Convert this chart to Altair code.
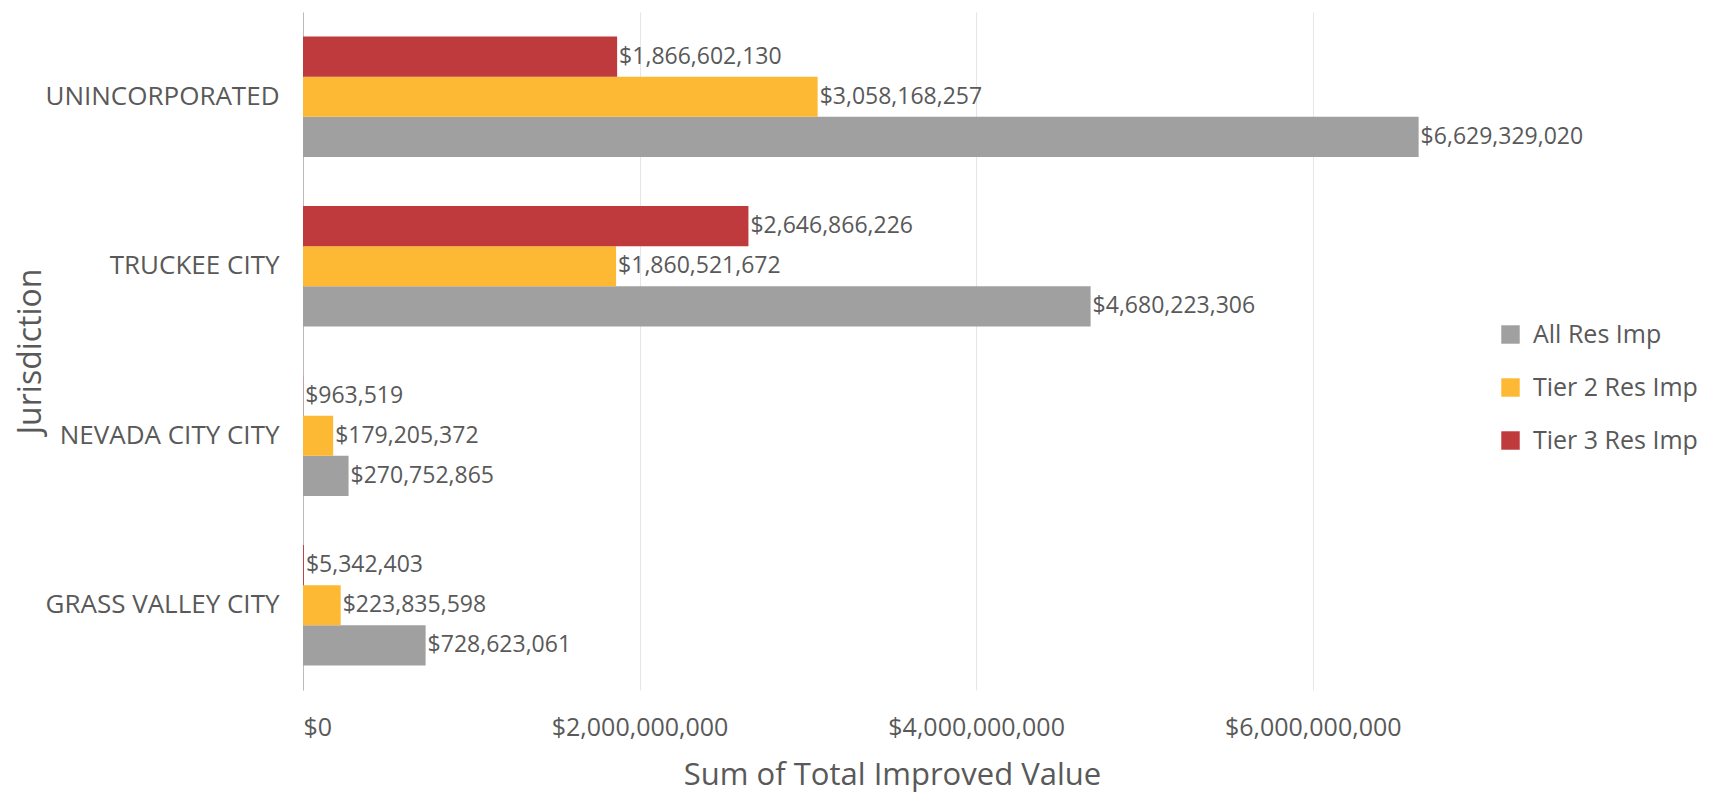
import altair as alt
import pandas as pd

categories = ["UNINCORPORATED", "TRUCKEE CITY", "NEVADA CITY CITY", "GRASS VALLEY CITY"]
series_names = ["All Res Imp", "Tier 2 Res Imp", "Tier 3 Res Imp"]
all_res = [6629329020, 4680223306, 270752865, 728623061]
tier2 = [3058168257, 1860521672, 179205372, 223835598]
tier3 = [1866602130, 2646866226, 963519, 5342403]
colors = ["#A0A0A0", "#FDB933", "#BE3A3C"]
tick_values = [0, 2000000000, 4000000000, 6000000000]

rows = []
for i, c in enumerate(categories):
    for s, vals in zip(series_names, [all_res, tier2, tier3]):
        rows.append({"Jurisdiction": c, "Series": s, "Value": vals[i]})
df = pd.DataFrame(rows)

FONT = "Open Sans"
TXT = "#595959"

base = alt.Chart(df).encode(
    y=alt.Y("Jurisdiction:N", sort=categories,
            scale=alt.Scale(paddingInner=0.29, paddingOuter=0.145),
            axis=alt.Axis(title="Jurisdiction", labelFontSize=26, titleFontSize=32,
                          labelFont=FONT, titleFont=FONT, labelColor=TXT, titleColor=TXT,
                          titleFontWeight="normal", ticks=False, domain=True, labelLimit=500,
                          domainColor="#BBBBBB", labelPadding=24,
                          titleX=-273, titleY=339, titleAngle=270,
                          titleAlign="center", titleBaseline="middle")),
    yOffset=alt.YOffset("Series:N", sort=["Tier 3 Res Imp", "Tier 2 Res Imp", "All Res Imp"]),
    x=alt.X("Value:Q", scale=alt.Scale(domain=[0, 7000000000], nice=False),
            axis=alt.Axis(title="Sum of Total Improved Value", values=tick_values,
                          format="$,.0f", labelFontSize=25, titleFontSize=31,
                          labelFont=FONT, titleFont=FONT, labelColor=TXT, titleColor=TXT,
                          titleFontWeight="normal", ticks=False, domain=False,
                          grid=True, gridColor="#E6E6E6", labelPadding=25, titlePadding=20)),
)

bars = base.mark_bar().encode(
    color=alt.Color("Series:N", scale=alt.Scale(domain=series_names, range=colors),
                    legend=alt.Legend(title=None, orient="none", legendX=1195, legendY=310,
                                      symbolType="square", symbolSize=340, symbolStrokeWidth=0,
                                      labelFontSize=25, labelFont=FONT, labelColor=TXT,
                                      labelLimit=400, labelOffset=10, rowPadding=27,
                                      symbolOpacity=1))
)

labels = base.mark_text(align="left", baseline="middle", dx=2, fontSize=23,
                        font=FONT, color=TXT).encode(
    text=alt.Text("Value:Q", format="$,.0f")
)

chart = (bars + labels).properties(
    width=1178, height=678, background="white",
    padding={"left": 6, "top": 4, "right": 5, "bottom": 5},
).configure_view(stroke=None)

chart.save("out.html", embed_options={"renderer": "svg", "actions": False})
